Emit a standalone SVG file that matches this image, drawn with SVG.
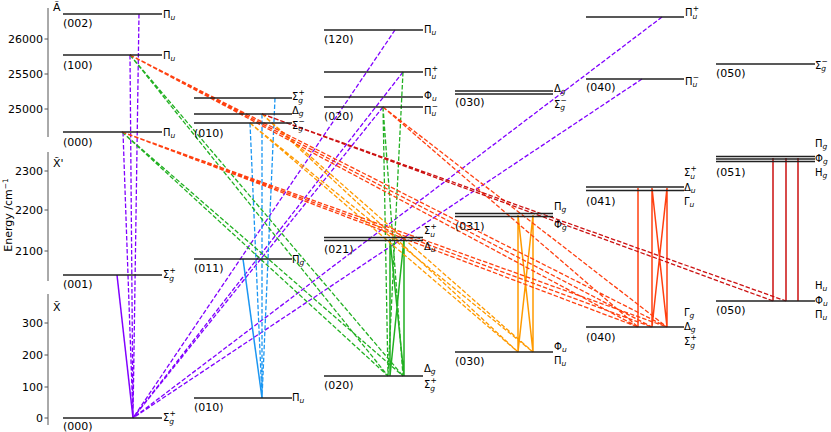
<svg xmlns="http://www.w3.org/2000/svg" width="831" height="432" viewBox="0 0 831 432">
<style>
text{font-family:"DejaVu Sans","Liberation Sans",sans-serif;font-size:11px;fill:#000}
.t{text-anchor:end}
.m{font-size:10px}
.sb{font-size:7.5px;font-style:italic}
.sp{font-size:7.5px}
.lvl{stroke:#222;stroke-width:1.5;fill:none}
.ax{stroke:#555;stroke-width:1;fill:none}
.d{fill:none;stroke-width:1.3;stroke-dasharray:4.5 2}
.s{fill:none;stroke-width:1.5}
.pu{stroke:#8000ff}.bl{stroke:#1a96f2}.gr{stroke:#22b022}.or{stroke:#ff9a00}.rd{stroke:#ff4010}.dr{stroke:#cc1111}
</style>
<rect width="831" height="432" fill="#fff"/>
<g id="axes">
<path class="ax" d="M48,8V137M48,152V281M48,294V425M44.5,39H48M44.5,74H48M44.5,109H48M44.5,171H48M44.5,210H48M44.5,251H48M44.5,323H48M44.5,355H48M44.5,387H48M44.5,418H48"/>
<text class="t" x="43" y="43">26000</text>
<text class="t" x="43" y="78">25500</text>
<text class="t" x="43" y="113">25000</text>
<text class="t" x="43" y="175">2300</text>
<text class="t" x="43" y="214">2200</text>
<text class="t" x="43" y="255">2100</text>
<text class="t" x="43" y="327">300</text>
<text class="t" x="43" y="359">200</text>
<text class="t" x="43" y="391">100</text>
<text class="t" x="43" y="422">0</text>
<text x="53" y="11">Ã</text>
<text x="53" y="167">X̃'</text>
<text x="53" y="311">X̃</text>
<text transform="translate(12,215) rotate(-90)" text-anchor="middle">Energy /cm<tspan class="sp" dy="-4">−1</tspan></text>
</g>
<g id="connectors">
<path class="d pu" d="M139,14L133,418M130,55L133,418M123,132L133,418M395,30L133,418M403,72L133,418M383,107L133,418M662,17L133,418M642,79L133,418"/>
<path class="s pu" d="M117,275L133,418"/>
<path class="d bl" d="M275,98L262,398M262,114L262,398M250,123L262,398"/>
<path class="s bl" d="M243,259L262,398"/>
<path class="d gr" d="M130,55L388,376M130,55L403,376M122,132L388,376M122,132L403,376M403,72L388,376M383,107L388,376M383,107L403,376"/>
<path class="s gr" d="M390,239V376M404,239V376M390,239L404,376M404,239L390,376"/>
<path class="d or" d="M250,123L518,352M250,123L533,352M262,114L518,352M262,114L533,352"/>
<path class="s or" d="M518,215V352M533,215V352M518,215L533,352M533,215L518,352"/>
<path class="d rd" d="M130,55L638,327M130,55L652,327M130,55L667,327M122,132L638,327M122,132L652,327M122,132L667,327M383,107L638,327M383,107L667,327"/>
<path class="s rd" d="M638,188V327M652,188V327M667,188V327M652,188L667,327M667,188L652,327"/>
<path class="d dr" d="M262,114L773,301M262,114L786,301"/>
<path class="s dr" d="M773,158V301M786,158V301M798,158V301"/>
</g>
<g id="A002"><path class="lvl" d="M63,14H162"/><text x="63" y="27">(002)</text><text class="m" x="163" y="18">Π<tspan class="sb" dy="2">u</tspan></text></g>
<g id="A100"><path class="lvl" d="M63,55H162"/><text x="63" y="69">(100)</text><text class="m" x="163" y="59">Π<tspan class="sb" dy="2">u</tspan></text></g>
<g id="A000"><path class="lvl" d="M63,132H162"/><text x="63" y="146">(000)</text><text class="m" x="163" y="136">Π<tspan class="sb" dy="2">u</tspan></text></g>
<g id="X001"><path class="lvl" d="M63,275H162"/><text x="63" y="288">(001)</text><text class="m" x="163" y="278">Σ<tspan class="sb" dy="2.5">g</tspan><tspan class="sp" dx="-4.5" dy="-8">+</tspan></text></g>
<g id="X000"><path class="lvl" d="M63,418H162"/><text x="63" y="430">(000)</text><text class="m" x="163" y="421">Σ<tspan class="sb" dy="2.5">g</tspan><tspan class="sp" dx="-4.5" dy="-8">+</tspan></text></g>
<g id="A010"><path class="lvl" d="M194,98H292M194,114H292M194,123H292"/><text x="194" y="137">(010)</text>
<text class="m" x="292" y="100">Σ<tspan class="sb" dy="2.5">g</tspan><tspan class="sp" dx="-4.5" dy="-8">+</tspan></text>
<text class="m" x="292" y="114">Δ<tspan class="sb" dy="1.5">g</tspan></text>
<text class="m" x="292" y="129">Σ<tspan class="sb" dy="1.5">g</tspan><tspan class="sp" dx="-4.5" dy="-6.5">−</tspan></text></g>
<g id="X011"><path class="lvl" d="M194,259H292"/><text x="194" y="272">(011)</text><text class="m" x="292" y="263">Π<tspan class="sb" dy="2">g</tspan></text></g>
<g id="X010"><path class="lvl" d="M194,398H292"/><text x="194" y="411">(010)</text><text class="m" x="292" y="401">Π<tspan class="sb" dy="2">u</tspan></text></g>
<g id="A120"><path class="lvl" d="M324,30H423"/><text x="324" y="43">(120)</text><text class="m" x="424" y="33">Π<tspan class="sb" dy="2">u</tspan></text></g>
<g id="A020"><path class="lvl" d="M324,72H423M324,97H423M324,107H423"/><text x="324" y="120">(020)</text>
<text class="m" x="424" y="76">Π<tspan class="sb" dy="2.5">u</tspan><tspan class="sp" dx="-4.5" dy="-8">+</tspan></text>
<text class="m" x="424" y="99">Φ<tspan class="sb" dy="1.5">u</tspan></text>
<text class="m" x="424" y="114">Π<tspan class="sb" dy="1.5">u</tspan><tspan class="sp" dx="-4.5" dy="-6.5">−</tspan></text></g>
<g id="X021"><path class="lvl" d="M324,237.5H423M324,240.5H423"/><text x="324" y="253">(021)</text>
<text class="m" x="424" y="234">Σ<tspan class="sb" dy="2.5">u</tspan><tspan class="sp" dx="-4.5" dy="-8">+</tspan></text>
<text class="m" x="424" y="250">Δ<tspan class="sb" dy="1.5">u</tspan></text></g>
<g id="X020"><path class="lvl" d="M324,376H423"/><text x="324" y="389">(020)</text>
<text class="m" x="424" y="372">Δ<tspan class="sb" dy="1.5">g</tspan></text>
<text class="m" x="424" y="388">Σ<tspan class="sb" dy="2.5">g</tspan><tspan class="sp" dx="-4.5" dy="-8">+</tspan></text></g>
<g id="A030"><path class="lvl" d="M455,91H553M455,94H553"/><text x="455" y="106">(030)</text>
<text class="m" x="554" y="92">Δ<tspan class="sb" dy="1.5">g</tspan></text>
<text class="m" x="554" y="108">Σ<tspan class="sb" dy="1.5">g</tspan><tspan class="sp" dx="-4.5" dy="-6.5">−</tspan></text></g>
<g id="X031"><path class="lvl" d="M455,213.5H553M455,216.5H553"/><text x="455" y="230">(031)</text>
<text class="m" x="554" y="210">Π<tspan class="sb" dy="1.5">g</tspan></text>
<text class="m" x="554" y="228">Φ<tspan class="sb" dy="1.5">g</tspan></text></g>
<g id="X030"><path class="lvl" d="M455,352H553"/><text x="455" y="365">(030)</text>
<text class="m" x="554" y="350">Φ<tspan class="sb" dy="1.5">u</tspan></text>
<text class="m" x="554" y="364">Π<tspan class="sb" dy="1.5">u</tspan></text></g>
<g id="A040"><path class="lvl" d="M586,17H684M586,79H684"/><text x="586" y="91">(040)</text>
<text class="m" x="685" y="16">Π<tspan class="sb" dy="2.5">u</tspan><tspan class="sp" dx="-4.5" dy="-8">+</tspan></text>
<text class="m" x="685" y="85">Π<tspan class="sb" dy="1.5">u</tspan><tspan class="sp" dx="-4.5" dy="-6.5">−</tspan></text></g>
<g id="X041"><path class="lvl" d="M586,187H684" stroke-width="2.5"/><path class="lvl" d="M586,190.5H684" stroke-width="1.2"/><text x="586" y="205">(041)</text>
<text class="m" x="684" y="176">Σ<tspan class="sb" dy="2.5">u</tspan><tspan class="sp" dx="-4.5" dy="-8">+</tspan></text>
<text class="m" x="684" y="191">Δ<tspan class="sb" dy="1.5">u</tspan></text>
<text class="m" x="684" y="205">Γ<tspan class="sb" dy="1.5">u</tspan></text></g>
<g id="X040"><path class="lvl" d="M586,327H684" stroke-width="3"/><text x="586" y="341">(040)</text>
<text class="m" x="684" y="316">Γ<tspan class="sb" dy="1.5">g</tspan></text>
<text class="m" x="684" y="330">Δ<tspan class="sb" dy="1.5">g</tspan></text>
<text class="m" x="684" y="345">Σ<tspan class="sb" dy="2.5">g</tspan><tspan class="sp" dx="-4.5" dy="-8">+</tspan></text></g>
<g id="A050"><path class="lvl" d="M716,64H815"/><text x="716" y="77">(050)</text>
<text class="m" x="815" y="69">Σ<tspan class="sb" dy="1.5">g</tspan><tspan class="sp" dx="-4.5" dy="-6.5">−</tspan></text></g>
<g id="X051"><path class="lvl" d="M716,156.5H815M716,159H815M716,161.5H815"/><text x="716" y="176">(051)</text>
<text class="m" x="815" y="147">Π<tspan class="sb" dy="1.5">g</tspan></text>
<text class="m" x="815" y="162">Φ<tspan class="sb" dy="1.5">g</tspan></text>
<text class="m" x="815" y="176">H<tspan class="sb" dy="1.5">g</tspan></text></g>
<g id="X050"><path class="lvl" d="M716,301H815" stroke-width="3"/><text x="716" y="314">(050)</text>
<text class="m" x="815" y="289">H<tspan class="sb" dy="1.5">u</tspan></text>
<text class="m" x="815" y="304">Φ<tspan class="sb" dy="1.5">u</tspan></text>
<text class="m" x="815" y="318">Π<tspan class="sb" dy="1.5">u</tspan></text></g>
</svg>
